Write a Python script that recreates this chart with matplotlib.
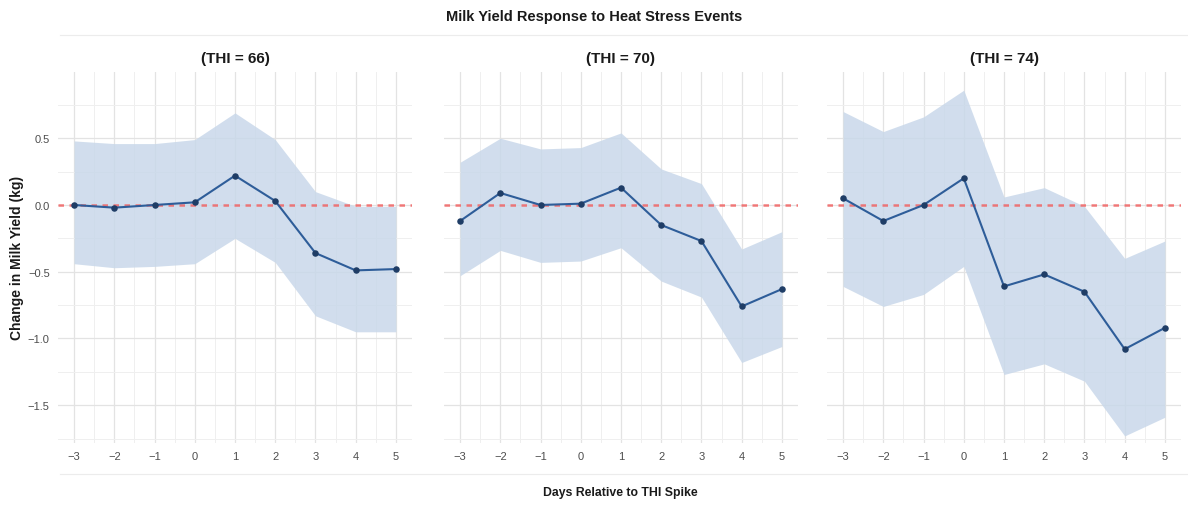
import numpy as np
import matplotlib.pyplot as plt
from matplotlib.lines import Line2D

plt.rcParams['font.family'] = ['Liberation Sans', 'DejaVu Sans']

days = [-3, -2, -1, 0, 1, 2, 3, 4, 5]
panel_titles = ['(THI = 66)', '(THI = 70)', '(THI = 74)']

# mean change and band per THI threshold
mean_66 = [0.00, -0.02, 0.00, 0.02, 0.22, 0.03, -0.36, -0.49, -0.48]
upper_66 = [0.48, 0.46, 0.46, 0.49, 0.69, 0.49, 0.10, -0.01, -0.01]
lower_66 = [-0.44, -0.47, -0.46, -0.44, -0.25, -0.43, -0.83, -0.95, -0.95]

mean_70 = [-0.12, 0.09, 0.00, 0.01, 0.13, -0.15, -0.27, -0.76, -0.63]
upper_70 = [0.32, 0.50, 0.42, 0.43, 0.54, 0.27, 0.16, -0.33, -0.20]
lower_70 = [-0.53, -0.34, -0.43, -0.42, -0.32, -0.57, -0.69, -1.18, -1.06]

mean_74 = [0.05, -0.12, 0.00, 0.20, -0.61, -0.52, -0.65, -1.08, -0.92]
upper_74 = [0.70, 0.55, 0.66, 0.86, 0.06, 0.13, -0.01, -0.40, -0.27]
lower_74 = [-0.61, -0.76, -0.67, -0.46, -1.27, -1.19, -1.32, -1.73, -1.59]

means = [mean_66, mean_70, mean_74]
uppers = [upper_66, upper_70, upper_74]
lowers = [lower_66, lower_70, lower_74]

W, H = 1188, 506
fig = plt.figure(figsize=(W / 100, H / 100), dpi=100)

lefts = [58, 444, 827]
pw = 354
top_px, bot_px = 72.5, 443.6

axes = []
for i in range(3):
    ax = fig.add_axes([lefts[i] / W, 1 - bot_px / H, pw / W, (bot_px - top_px) / H])
    axes.append(ax)
    ax.fill_between(days, lowers[i], uppers[i], color='#c9d8ea', alpha=0.85, lw=0, zorder=1)
    ax.axhline(0, color='#f25c5c', ls=(0, (2.2, 2.2)), lw=1.8, alpha=0.8, zorder=2)
    ax.plot(days, means[i], color='#2e5d99', lw=1.5, zorder=3)
    ax.scatter(days, means[i], s=22, color='#1f3d66', zorder=4, lw=0)

    ax.set_xlim(-3.4, 5.4)
    ax.set_ylim(-1.78, 1.0)
    ax.set_xticks(days)
    ax.set_xticks(np.arange(-2.5, 5, 1.0), minor=True)
    ax.set_yticks([-1.5, -1.0, -0.5, 0.0, 0.5])
    ax.set_yticks([-1.75, -1.25, -0.75, -0.25, 0.25, 0.75], minor=True)
    ax.grid(True, which='major', color='#e3e3e3', lw=0.9, zorder=0)
    ax.grid(True, which='minor', color='#efefef', lw=0.7, zorder=0)
    ax.set_axisbelow(True)
    for s in ax.spines.values():
        s.set_visible(False)
    ax.tick_params(which='both', length=0, labelsize=8, labelcolor='#4d4d4d', pad=6)
    ax.set_xticklabels(['\u22123', '\u22122', '\u22121', '0', '1', '2', '3', '4', '5'])
    if i == 0:
        ax.set_yticklabels(['\u22121.5', '\u22121.0', '\u22120.5', '0.0', '0.5'])
    else:
        ax.set_yticklabels([])
    ax.set_title(panel_titles[i], fontsize=11, fontweight='bold', color='#1a1a1a', pad=7)

axes[0].set_ylabel('Change in Milk Yield (kg)', fontsize=10, fontweight='bold', color='#1a1a1a', labelpad=3)

fig.text(0.5, 1 - 17 / H, 'Milk Yield Response to Heat Stress Events', ha='center', va='center',
         fontsize=10.5, fontweight='bold', color='#1a1a1a')
fig.text(620 / W, 1 - 493 / H, 'Days Relative to THI Spike', ha='center', va='center',
         fontsize=8.8, fontweight='bold', color='#1a1a1a')

# faint separators under the title and above the axis title
fig.add_artist(Line2D([60 / W, 1], [1 - 36 / H, 1 - 36 / H], color='#ececec', lw=0.8))
fig.add_artist(Line2D([60 / W, 1], [1 - 475 / H, 1 - 475 / H], color='#ececec', lw=0.8))

fig.savefig('out.png', dpi=100)
